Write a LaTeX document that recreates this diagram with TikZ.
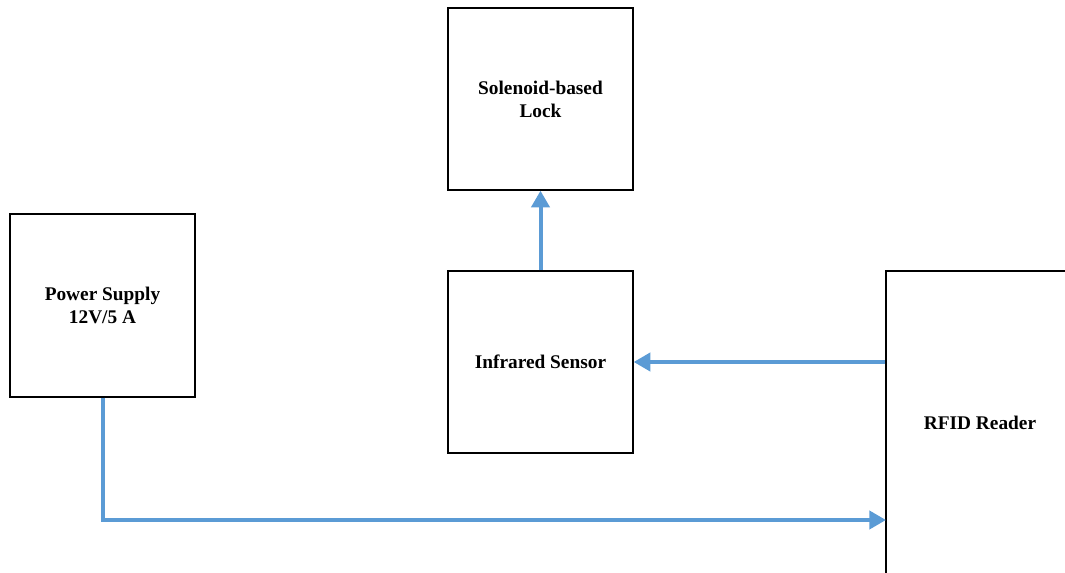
\documentclass[tikz,border=0pt]{standalone}
\usepackage{fontspec}
\setmainfont{Liberation Serif}
\usepackage{xcolor}
\usetikzlibrary{arrows.meta,calc}
\definecolor{linkblue}{RGB}{91,155,213}

\begin{document}
\begin{tikzpicture}[x=0.75pt, y=-0.75pt,
  box/.style={draw=black, line width=1pt, align=center, inner sep=0pt,
    font=\fontsize{14.5}{17.25}\selectfont\bfseries},
  link/.style={draw=linkblue, line width=3pt,
    -{Triangle[length=12.5pt, width=13.5pt]}}]
  % page frame, the reader box runs off the right and bottom edges
  \useasboundingbox (0,0) rectangle (1065,572);
  \clip (0,0) rectangle (1065,572);
  \node[box, minimum width=138.75pt, minimum height=136.5pt] (lock) at (540.5,99) {Solenoid-based\\Lock};
  \node[box, minimum width=138.75pt, minimum height=137.25pt] (psu) at (102.5,305.5) {Power Supply\\12V/5 A};
  \node[box, minimum width=138.75pt, minimum height=136.5pt] (ir) at (540.5,362) {Infrared Sensor};
  \node[box, minimum width=141pt, minimum height=228pt] (rfid) at (980,423) {RFID Reader};
  \coordinate (rfidin) at (886,520);
  % connections
  \draw[link] (ir.north) -- (lock.south);
  \draw[link] (ir.east -| rfid.west) -- (ir.east);
  \draw[link] (psu.south) |- (rfidin);
\end{tikzpicture}
\end{document}
